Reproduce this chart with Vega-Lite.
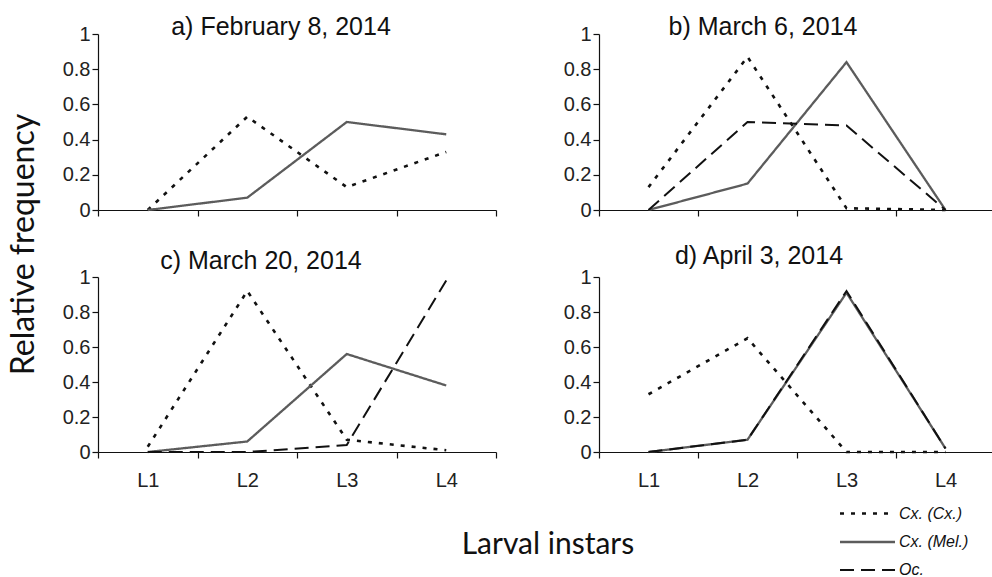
{
  "$schema": "https://vega.github.io/schema/vega-lite/v6.json",
  "background": "white",
  "padding": {"left": 8, "top": 15, "right": 0, "bottom": 0},
  "datasets": {
    "freq": [
      {"panel": "a", "stage": "L1", "species": "Cx. (Cx.)", "value": 0.0},
      {"panel": "a", "stage": "L2", "species": "Cx. (Cx.)", "value": 0.53},
      {"panel": "a", "stage": "L3", "species": "Cx. (Cx.)", "value": 0.13},
      {"panel": "a", "stage": "L4", "species": "Cx. (Cx.)", "value": 0.33},
      {"panel": "a", "stage": "L1", "species": "Cx. (Mel.)", "value": 0.0},
      {"panel": "a", "stage": "L2", "species": "Cx. (Mel.)", "value": 0.07},
      {"panel": "a", "stage": "L3", "species": "Cx. (Mel.)", "value": 0.5},
      {"panel": "a", "stage": "L4", "species": "Cx. (Mel.)", "value": 0.43},
      {"panel": "b", "stage": "L1", "species": "Cx. (Cx.)", "value": 0.13},
      {"panel": "b", "stage": "L2", "species": "Cx. (Cx.)", "value": 0.87},
      {"panel": "b", "stage": "L3", "species": "Cx. (Cx.)", "value": 0.01},
      {"panel": "b", "stage": "L4", "species": "Cx. (Cx.)", "value": 0.0},
      {"panel": "b", "stage": "L1", "species": "Cx. (Mel.)", "value": 0.0},
      {"panel": "b", "stage": "L2", "species": "Cx. (Mel.)", "value": 0.15},
      {"panel": "b", "stage": "L3", "species": "Cx. (Mel.)", "value": 0.84},
      {"panel": "b", "stage": "L4", "species": "Cx. (Mel.)", "value": 0.0},
      {"panel": "b", "stage": "L1", "species": "Oc.", "value": 0.0},
      {"panel": "b", "stage": "L2", "species": "Oc.", "value": 0.5},
      {"panel": "b", "stage": "L3", "species": "Oc.", "value": 0.48},
      {"panel": "b", "stage": "L4", "species": "Oc.", "value": 0.0},
      {"panel": "c", "stage": "L1", "species": "Cx. (Cx.)", "value": 0.03},
      {"panel": "c", "stage": "L2", "species": "Cx. (Cx.)", "value": 0.92},
      {"panel": "c", "stage": "L3", "species": "Cx. (Cx.)", "value": 0.07},
      {"panel": "c", "stage": "L4", "species": "Cx. (Cx.)", "value": 0.01},
      {"panel": "c", "stage": "L1", "species": "Cx. (Mel.)", "value": 0.0},
      {"panel": "c", "stage": "L2", "species": "Cx. (Mel.)", "value": 0.06},
      {"panel": "c", "stage": "L3", "species": "Cx. (Mel.)", "value": 0.56},
      {"panel": "c", "stage": "L4", "species": "Cx. (Mel.)", "value": 0.38},
      {"panel": "c", "stage": "L1", "species": "Oc.", "value": 0.0},
      {"panel": "c", "stage": "L2", "species": "Oc.", "value": 0.0},
      {"panel": "c", "stage": "L3", "species": "Oc.", "value": 0.04},
      {"panel": "c", "stage": "L4", "species": "Oc.", "value": 0.98},
      {"panel": "d", "stage": "L1", "species": "Cx. (Cx.)", "value": 0.33},
      {"panel": "d", "stage": "L2", "species": "Cx. (Cx.)", "value": 0.65},
      {"panel": "d", "stage": "L3", "species": "Cx. (Cx.)", "value": 0.0},
      {"panel": "d", "stage": "L4", "species": "Cx. (Cx.)", "value": 0.0},
      {"panel": "d", "stage": "L1", "species": "Cx. (Mel.)", "value": 0.0},
      {"panel": "d", "stage": "L2", "species": "Cx. (Mel.)", "value": 0.07},
      {"panel": "d", "stage": "L3", "species": "Cx. (Mel.)", "value": 0.91},
      {"panel": "d", "stage": "L4", "species": "Cx. (Mel.)", "value": 0.02},
      {"panel": "d", "stage": "L1", "species": "Oc.", "value": 0.0},
      {"panel": "d", "stage": "L2", "species": "Oc.", "value": 0.07},
      {"panel": "d", "stage": "L3", "species": "Oc.", "value": 0.92},
      {"panel": "d", "stage": "L4", "species": "Oc.", "value": 0.02}
    ]
  },
  "vconcat": [
    {
      "title": {"text": "Larval instars", "orient": "bottom", "anchor": "middle", "fontSize": 30, "fontWeight": "normal", "font": "Lato", "color": "#111", "offset": 40, "dx": 46},
      "vconcat": [
        {
          "title": {"text": "Relative frequency", "orient": "left", "anchor": "middle", "fontSize": 32, "fontWeight": "normal", "font": "Lato", "color": "#111", "offset": 21, "dx": 8},
          "spacing": 24,
          "vconcat": [
            {
              "spacing": 66,
              "hconcat": [
                {
                  "title": {"text": "a) February 8, 2014", "offset": -16, "dx": -16},
                  "width": 398, "height": 176,
                  "data": {"name": "freq"},
                  "transform": [{"filter": "datum.panel === 'a'"}],
                  "mark": {"type": "line"},
                  "encoding": {
                    "x": {"field": "stage", "type": "nominal", "sort": ["L1", "L2", "L3", "L4"], "scale": {"type": "band", "domain": ["L1", "L2", "L3", "L4"], "paddingInner": 0, "paddingOuter": 0}, "axis": {"labels": false, "title": null}},
                    "y": {"field": "value", "type": "quantitative", "scale": {"domain": [0, 1], "nice": false}, "axis": {"values": [0, 0.2, 0.4, 0.6, 0.8, 1], "format": ".1~f", "title": null}},
                    "strokeDash": {"field": "species", "type": "nominal", "scale": {"domain": ["Cx. (Cx.)", "Cx. (Mel.)", "Oc."], "range": [[4, 7], [1, 0], [14, 7]]}},
                    "color": {"field": "species", "type": "nominal", "scale": {"domain": ["Cx. (Cx.)", "Cx. (Mel.)", "Oc."], "range": ["#111111", "#5c5c5c", "#111111"]}},
                    "strokeWidth": {"field": "species", "type": "nominal", "scale": {"domain": ["Cx. (Cx.)", "Cx. (Mel.)", "Oc."], "range": [2.6, 2, 2.6]}, "legend": null}
                  }
                },
                {
                  "title": {"text": "b) March 6, 2014", "offset": -16, "dx": -34},
                  "width": 396, "height": 176,
                  "data": {"name": "freq"},
                  "transform": [{"filter": "datum.panel === 'b'"}],
                  "mark": {"type": "line"},
                  "encoding": {
                    "x": {"field": "stage", "type": "nominal", "sort": ["L1", "L2", "L3", "L4"], "scale": {"type": "band", "domain": ["L1", "L2", "L3", "L4"], "paddingInner": 0, "paddingOuter": 0}, "axis": {"labels": false, "title": null}},
                    "y": {"field": "value", "type": "quantitative", "scale": {"domain": [0, 1], "nice": false}, "axis": {"values": [0, 0.2, 0.4, 0.6, 0.8, 1], "format": ".1~f", "title": null}},
                    "strokeDash": {"field": "species", "type": "nominal", "scale": {"domain": ["Cx. (Cx.)", "Cx. (Mel.)", "Oc."], "range": [[4, 7], [1, 0], [14, 7]]}},
                    "color": {"field": "species", "type": "nominal", "scale": {"domain": ["Cx. (Cx.)", "Cx. (Mel.)", "Oc."], "range": ["#111111", "#5c5c5c", "#111111"]}},
                    "strokeWidth": {"field": "species", "type": "nominal", "scale": {"domain": ["Cx. (Cx.)", "Cx. (Mel.)", "Oc."], "range": [2.6, 2, 2.6]}, "legend": null}
                  }
                }
              ]
            },
            {
              "spacing": 66,
              "hconcat": [
                {
                  "title": {"text": "c) March 20, 2014", "offset": -7, "dx": -36},
                  "width": 398, "height": 175,
                  "data": {"name": "freq"},
                  "transform": [{"filter": "datum.panel === 'c'"}],
                  "mark": {"type": "line"},
                  "encoding": {
                    "x": {"field": "stage", "type": "nominal", "sort": ["L1", "L2", "L3", "L4"], "scale": {"type": "band", "domain": ["L1", "L2", "L3", "L4"], "paddingInner": 0, "paddingOuter": 0}, "axis": {"title": null}},
                    "y": {"field": "value", "type": "quantitative", "scale": {"domain": [0, 1], "nice": false}, "axis": {"values": [0, 0.2, 0.4, 0.6, 0.8, 1], "format": ".1~f", "title": null}},
                    "strokeDash": {"field": "species", "type": "nominal", "scale": {"domain": ["Cx. (Cx.)", "Cx. (Mel.)", "Oc."], "range": [[4, 7], [1, 0], [14, 7]]}},
                    "color": {"field": "species", "type": "nominal", "scale": {"domain": ["Cx. (Cx.)", "Cx. (Mel.)", "Oc."], "range": ["#111111", "#5c5c5c", "#111111"]}},
                    "strokeWidth": {"field": "species", "type": "nominal", "scale": {"domain": ["Cx. (Cx.)", "Cx. (Mel.)", "Oc."], "range": [2.6, 2, 2.6]}, "legend": null}
                  }
                },
                {
                  "title": {"text": "d) April 3, 2014", "offset": -2, "dx": -38},
                  "width": 396, "height": 175,
                  "data": {"name": "freq"},
                  "transform": [{"filter": "datum.panel === 'd'"}],
                  "mark": {"type": "line"},
                  "encoding": {
                    "x": {"field": "stage", "type": "nominal", "sort": ["L1", "L2", "L3", "L4"], "scale": {"type": "band", "domain": ["L1", "L2", "L3", "L4"], "paddingInner": 0, "paddingOuter": 0}, "axis": {"title": null}},
                    "y": {"field": "value", "type": "quantitative", "scale": {"domain": [0, 1], "nice": false}, "axis": {"values": [0, 0.2, 0.4, 0.6, 0.8, 1], "format": ".1~f", "title": null}},
                    "strokeDash": {"field": "species", "type": "nominal", "scale": {"domain": ["Cx. (Cx.)", "Cx. (Mel.)", "Oc."], "range": [[4, 7], [1, 0], [14, 7]]}, "legend": {"orient": "none", "legendX": 758, "legendY": 468, "title": null}},
                    "color": {"field": "species", "type": "nominal", "scale": {"domain": ["Cx. (Cx.)", "Cx. (Mel.)", "Oc."], "range": ["#111111", "#5c5c5c", "#111111"]}, "legend": {"orient": "none", "legendX": 758, "legendY": 468, "title": null}},
                    "strokeWidth": {"field": "species", "type": "nominal", "scale": {"domain": ["Cx. (Cx.)", "Cx. (Mel.)", "Oc."], "range": [2.6, 2, 2.6]}, "legend": null}
                  }
                }
              ]
            }
          ]
        }
      ]
    }
  ],
  "config": {
    "font": "Liberation Sans",
    "view": {"stroke": null},
    "title": {"fontSize": 25, "fontWeight": "normal", "color": "#111", "font": "Liberation Sans"},
    "axis": {"grid": false, "domainColor": "#111", "domainWidth": 1.2, "tickColor": "#111", "tickWidth": 1.2, "tickSize": 6, "labelColor": "#222", "labelFontSize": 20, "labelFont": "Liberation Sans", "labelPadding": 2},
    "axisX": {"tickBand": "extent", "labelPadding": 12, "labelAngle": 0},
    "legend": {
      "symbolType": "M-2.75,0H2.75", "symbolSize": 400, "symbolStrokeWidth": 2.6,
      "labelFontStyle": "italic", "labelFontSize": 16, "labelColor": "#111", "rowPadding": 8.5, "labelOffset": 20
    }
  }
}
